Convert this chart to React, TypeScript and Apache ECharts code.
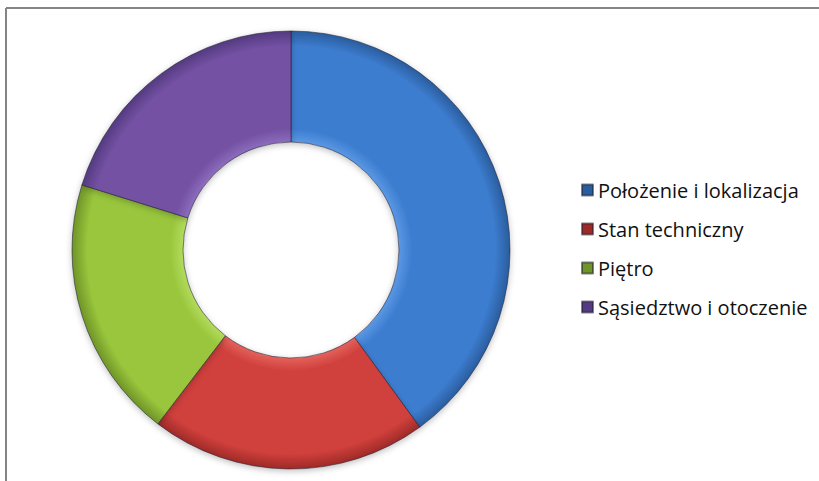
import React, { useEffect, useRef } from "react";
import * as echarts from "echarts";

const categories = ["Położenie i lokalizacja", "Stan techniczny", "Piętro", "Sąsiedztwo i otoczenie"];
const values = [40, 20.4, 19.4, 20.2];
const baseColors = ["#3d7dd0", "#d0403c", "#99c63c", "#7451a4"];
const lightColors = ["#5a98e4", "#e3625c", "#b2db5c", "#8c6cbc"];
const darkColors = ["#2a5d9e", "#9e2a27", "#6f9428", "#543a80"];

const CX = 291;
const CY = 250;
const R_OUT = 219;
const R_IN = 108;

export default function App() {
  const ref = useRef<HTMLDivElement>(null);
  useEffect(() => {
    if (!ref.current) return;
    const chart = echarts.init(ref.current, null, { renderer: "svg" });
    const inner = R_IN / R_OUT;
    const data = categories.map((name, i) => ({
      name,
      value: values[i],
      itemStyle: {
        color: {
          type: "radial",
          x: CX,
          y: CY,
          r: R_OUT,
          global: true,
          colorStops: [
            { offset: 0, color: lightColors[i] },
            { offset: inner, color: lightColors[i] },
            { offset: inner + 0.06, color: baseColors[i] },
            { offset: 0.93, color: baseColors[i] },
            { offset: 1, color: darkColors[i] },
          ],
        },
      },
    }));
    chart.setOption({
      animation: false,
      backgroundColor: "#ffffff",
      graphic: [
        {
          type: "line",
          shape: { x1: 6, y1: 8, x2: 819, y2: 8 },
          style: { stroke: "#858585", lineWidth: 2 },
          silent: true,
        },
        {
          type: "line",
          shape: { x1: 6, y1: 8, x2: 6, y2: 481 },
          style: { stroke: "#858585", lineWidth: 2 },
          silent: true,
        },
      ],
      legend: {
        orient: "vertical",
        left: 581,
        top: 179,
        padding: 0,
        itemWidth: 11,
        itemHeight: 11,
        itemGap: 17,
        icon: "rect",
        textStyle: {
          fontFamily: "Open Sans",
          fontSize: 20,
          lineHeight: 22,
          color: "#111111",
        },
        data: categories,
      },
      series: [
        {
          type: "pie",
          center: [CX, CY],
          radius: [R_IN, R_OUT],
          startAngle: 90,
          clockwise: true,
          label: { show: false },
          labelLine: { show: false },
          emphasis: { disabled: true },
          itemStyle: {
            borderColor: "rgba(30,30,50,0.55)",
            borderWidth: 1,
            shadowBlur: 6,
            shadowColor: "rgba(0,0,0,0.25)",
            shadowOffsetY: 2,
          },
          data,
        },
      ],
    });
    return () => chart.dispose();
  }, []);
  return (
    <div
      ref={ref}
      style={{ position: "fixed", left: 0, top: 0, width: 819, height: 481 }}
    />
  );
}
